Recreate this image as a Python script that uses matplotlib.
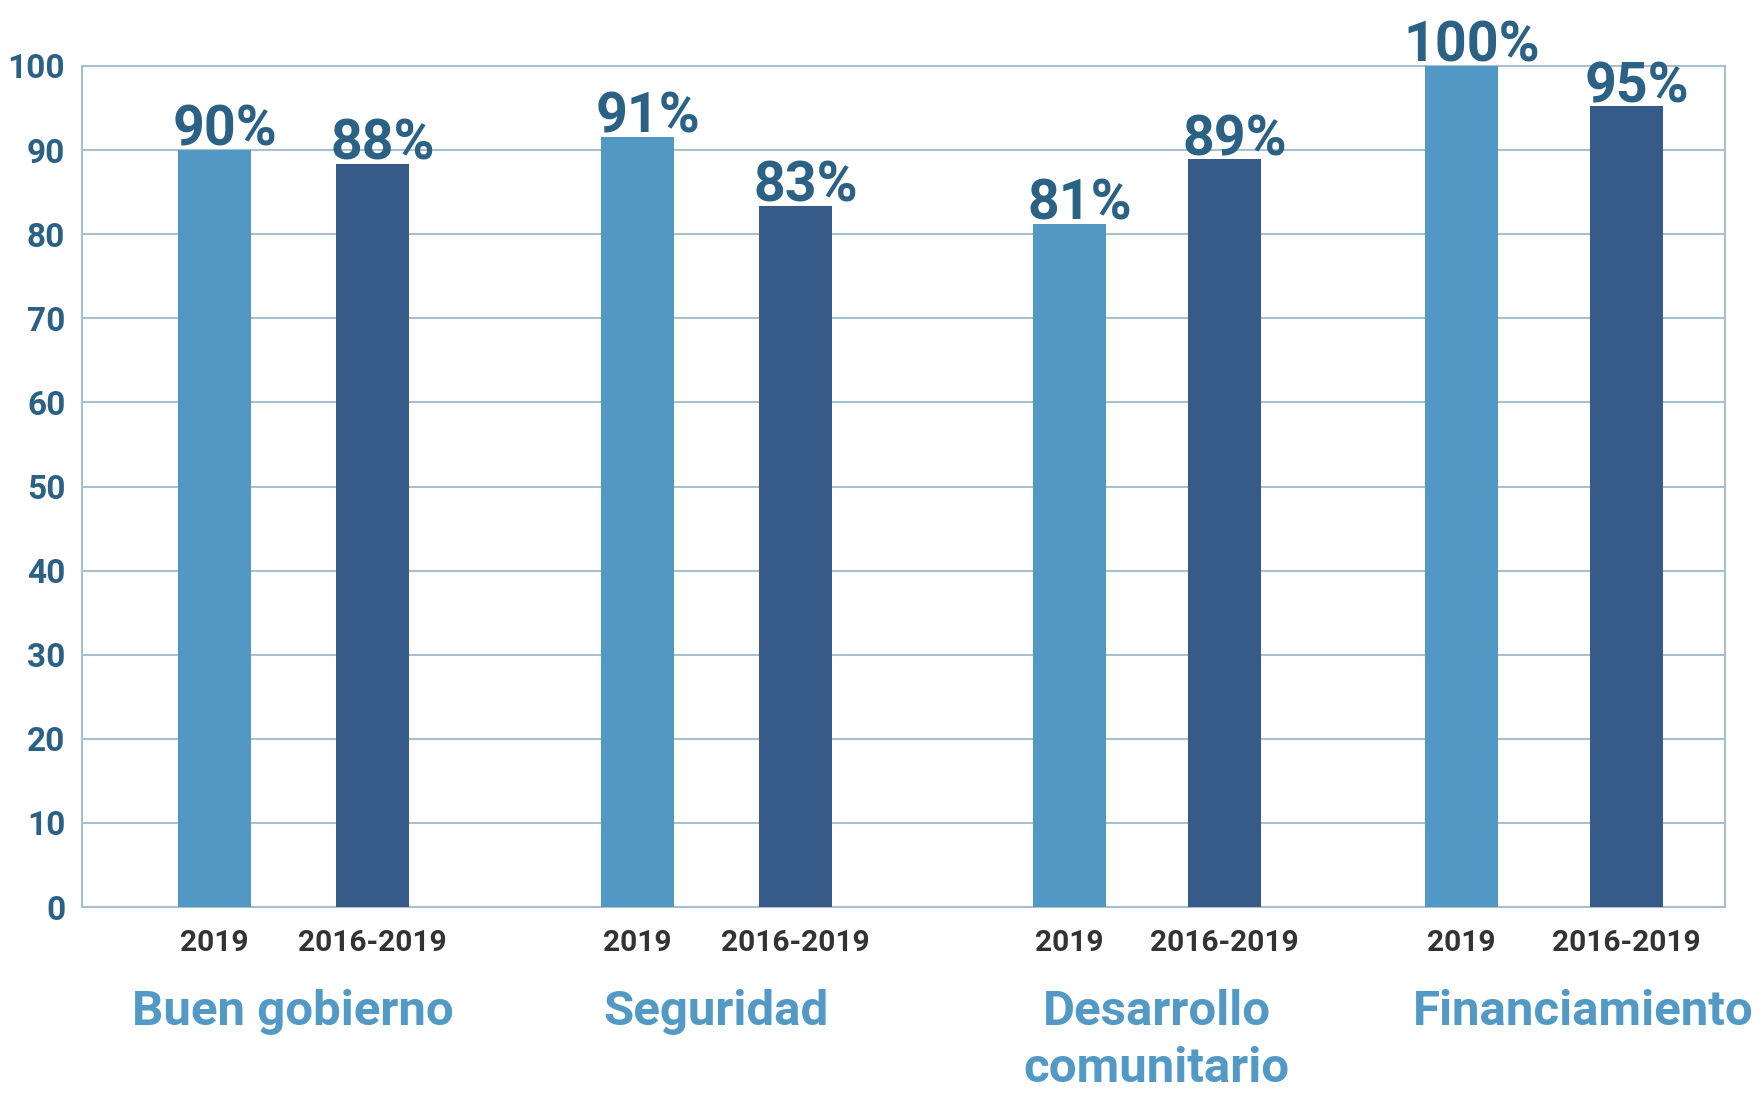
import matplotlib
matplotlib.use("Agg")
import matplotlib.pyplot as plt

# ---- data ----
categories = ["Buen gobierno", "Seguridad", "Desarrollo\ncomunitario", "Financiamiento"]
periods = ["2019", "2016-2019"]
values_2019 = [90.0, 91.6, 81.2, 100.0]
values_2016_2019 = [88.4, 83.4, 88.9, 95.2]
labels_2019 = ["90%", "91%", "81%", "100%"]
labels_2016_2019 = ["88%", "83%", "89%", "95%"]
y_ticks = [0, 10, 20, 30, 40, 50, 60, 70, 80, 90, 100]

# ---- layout ----
fam = ["Roboto", "DejaVu Sans"]

pos_2019 = [132, 555, 987, 1379]
pos_1619 = [290, 713, 1142, 1544]
bar_w = 73
label_dx = 11
cat_offsets = [0, 0, 10, 40]

c_light = "#5298C4"
c_dark = "#365B89"
c_val = "#2C6186"
c_grid = "#A9BFD0"

fig = plt.figure(figsize=(17.6, 10.97), dpi=100)
ax = fig.add_axes([82 / 1760, 1 - 907 / 1097, (1725 - 82) / 1760, (907 - 66) / 1097])

ax.bar(pos_2019, values_2019, width=bar_w, color=c_light, zorder=3)
ax.bar(pos_1619, values_2016_2019, width=bar_w, color=c_dark, zorder=3)

for x, v, l in zip(pos_2019 + pos_1619, values_2019 + values_2016_2019, labels_2019 + labels_2016_2019):
    ax.text(x + label_dx, v + 0.5, l, ha="center", va="baseline", fontsize=40, fontweight="bold",
            color=c_val, family=fam, zorder=4, clip_on=False)

ax.set_xlim(0, 1643)
ax.set_ylim(0, 100)
ax.set_yticks(y_ticks)
ax.set_yticklabels([str(t) for t in y_ticks], fontsize=24, fontweight="bold", color=c_val, family=fam)
ax.tick_params(axis="y", length=0, pad=12)

xt = []
xl = []
for a, b in zip(pos_2019, pos_1619):
    xt += [a, b]
    xl += periods
ax.set_xticks(xt)
ax.set_xticklabels(xl, fontsize=21.5, fontweight="bold", color="#333333", family=fam)
ax.tick_params(axis="x", length=0, pad=16)

ax.grid(axis="y", color=c_grid, linewidth=1.5, zorder=0)
for s in ax.spines.values():
    s.set_color(c_grid)
    s.set_linewidth(1.5)

tr = ax.get_xaxis_transform()
for a, b, name, off in zip(pos_2019, pos_1619, categories, cat_offsets):
    ax.text((a + b) / 2 + off, -0.097, name, transform=tr, ha="center", va="top",
            fontsize=35.5, fontweight="bold", color="#5299C5", family=fam,
            linespacing=1.32, clip_on=False)

fig.savefig("out.png", dpi=100)
